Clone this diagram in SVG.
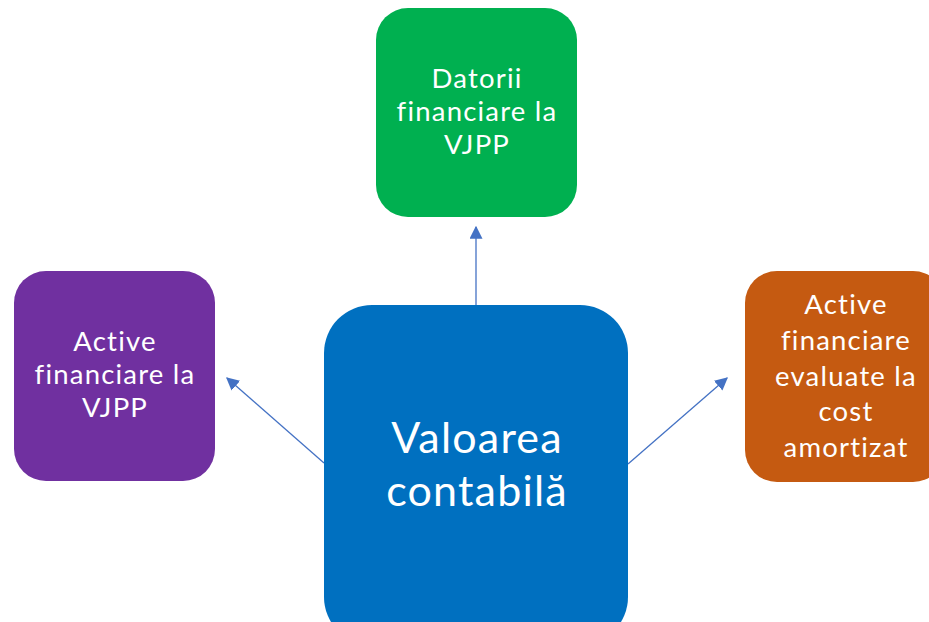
<svg xmlns="http://www.w3.org/2000/svg" width="929" height="622" viewBox="0 0 929 622">
<style>
.t{font-family:Lato,"Noto Sans",sans-serif;fill:#fff;text-anchor:middle;font-size:27.5px;letter-spacing:1.2px}
.big{font-size:43px;letter-spacing:1.2px}
.c{stroke:#4472C4;stroke-width:1.3;fill:none}
</style>
<defs>
<marker id="a" viewBox="0 0 10 10" refX="9" refY="5" markerWidth="13" markerHeight="13" markerUnits="userSpaceOnUse" orient="auto"><path d="M0,0 L10,5 L0,10 z" fill="#4472C4"/></marker>
</defs>
<rect width="929" height="622" fill="#fff"/>
<g id="connectors">
<line class="c" x1="476" y1="305" x2="476" y2="227" marker-end="url(#a)"/>
<line class="c" x1="324" y1="463" x2="227" y2="378" marker-end="url(#a)"/>
<line class="c" x1="628" y1="464" x2="727" y2="378" marker-end="url(#a)"/>
</g>
<g id="datorii">
<rect x="376" y="8" width="201" height="209" rx="32" fill="#00B050"/>
<text class="t" x="477" y="88">Datorii</text>
<text class="t" x="477" y="121">financiare la</text>
<text class="t" x="477" y="154">VJPP</text>
</g>
<g id="active-vjpp">
<rect x="14" y="271" width="201" height="210" rx="32" fill="#7030A0"/>
<text class="t" x="115" y="351">Active</text>
<text class="t" x="115" y="384">financiare la</text>
<text class="t" x="115" y="417">VJPP</text>
</g>
<g id="active-cost">
<rect x="745" y="271" width="200" height="211" rx="32" fill="#C55A11"/>
<text class="t" x="846" y="314">Active</text>
<text class="t" x="846" y="350">financiare</text>
<text class="t" x="846" y="386">evaluate la</text>
<text class="t" x="846" y="421">cost</text>
<text class="t" x="846" y="457">amortizat</text>
</g>
<g id="valoarea">
<rect x="324" y="305" width="304" height="340" rx="48" fill="#0070C0"/>
<text class="t big" x="477" y="453">Valoarea</text>
<text class="t big" x="477" y="506">contabilă</text>
</g>
</svg>
